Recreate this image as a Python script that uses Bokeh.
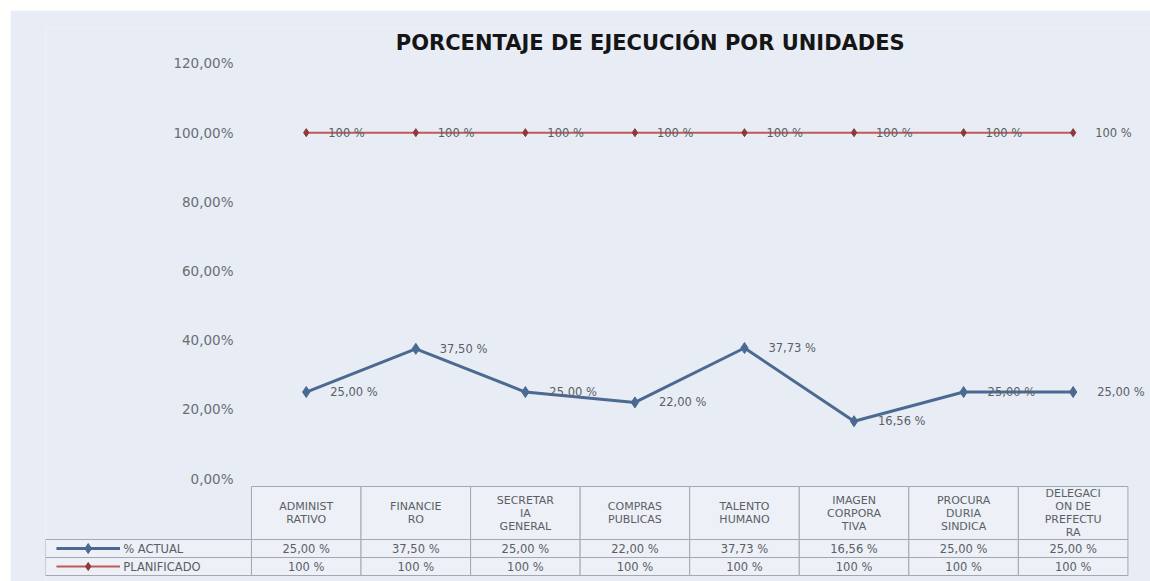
from bokeh.plotting import figure
from bokeh.models import Range1d, FixedTicker, Label, ColumnDataSource, Spacer
from bokeh.layouts import column, row
from bokeh.core.properties import value
from bokeh.embed import file_html
from bokeh.resources import INLINE

# ---- data ----
categories = ["ADMINISTRATIVO", "FINANCIERO", "SECRETARIA GENERAL", "COMPRAS PUBLICAS",
              "TALENTO HUMANO", "IMAGEN CORPORATIVA", "PROCURADURIA SINDICA",
              "DELEGACION DE PREFECTURA"]
header_labels = ["ADMINIST\nRATIVO", "FINANCIE\nRO", "SECRETAR\nIA\nGENERAL", "COMPRAS\nPUBLICAS",
                 "TALENTO\nHUMANO", "IMAGEN\nCORPORA\nTIVA", "PROCURA\nDURIA\nSINDICA",
                 "DELEGACI\nON DE\nPREFECTU\nRA"]
actual = [25.00, 37.50, 25.00, 22.00, 37.73, 16.56, 25.00, 25.00]
planned = [100, 100, 100, 100, 100, 100, 100, 100]
series_names = ["% ACTUAL", "PLANIFICADO"]
y_ticks = [0, 20, 40, 60, 80, 100, 120]
title_text = "PORCENTAJE DE EJECUCIÓN POR UNIDADES"

BG = "#e8ecf5"
CELL = "#edf0f7"
BLUE = "#4a6a92"
RED = "#c05a58"
DKRED = "#8a3a3a"
GRID = "#a2a8b2"
TXT = "#5a5f66"
FONT = "DejaVu Sans"

def fmt2(v):
    return ("%.2f" % v).replace(".", ",") + " %"

xs = [i + 0.5 for i in range(len(categories))]
src = ColumnDataSource(dict(
    x=xs, actual=actual, planned=planned,
    actual_lbl=[fmt2(v) for v in actual],
    planned_lbl=["%d %%" % v for v in planned],
    header=header_labels,
))

# ---- one figure: chart on top, data table below (extra y range) ----
p = figure(width=1140, height=571, x_range=Range1d(-1.88, 8.206), y_range=Range1d(-29.78, 130.11),
           output_backend="svg", toolbar_location=None, x_axis_location=None,
           min_border_left=35, min_border_right=0, min_border_top=18, min_border_bottom=0,
           background_fill_color=BG, border_fill_color=BG, outline_line_color=None)
p.extra_y_ranges = {"tbl": Range1d(0, 553)}
p.grid.grid_line_color = None

ax = p.yaxis[0]
ax.fixed_location = 0
ax.ticker = FixedTicker(ticks=y_ticks)
ax.major_label_overrides = {t: ("%.2f" % t).replace(".", ",") + "%" for t in y_ticks}
ax.axis_line_color = None
ax.major_tick_line_color = None
ax.minor_tick_line_color = None
ax.major_label_text_font = FONT
ax.major_label_text_font_size = "13.5px"
ax.major_label_text_color = "#6a6e75"
ax.major_label_standoff = 12

# series
p.line("x", "planned", source=src, line_color=RED, line_width=2)
p.scatter("x", "planned", source=src, marker="diamond", size=8, fill_color=DKRED, line_color=DKRED)
p.text("x", "planned", text="planned_lbl", source=src, x_offset=22, text_baseline="middle",
       text_font=value(FONT), text_font_size="11.5px", text_color=TXT)

p.line("x", "actual", source=src, line_color=BLUE, line_width=3)
p.scatter("x", "actual", source=src, marker="diamond", size=11, fill_color=BLUE, line_color=BLUE)
p.text("x", "actual", text="actual_lbl", source=src, x_offset=24, text_baseline="middle",
       text_font=value(FONT), text_font_size="11.5px", text_color=TXT)

p.add_layout(Label(x=3.64, y=126, text=title_text, text_align="center", text_baseline="middle",
                   text_font=FONT, text_font_size="21px", text_font_style="bold", text_color="#151515"))

# data table
n = len(categories)
lefts = list(range(n))
rights = [i + 1 for i in range(n)]
for b, tp in [(42, 95), (24, 42), (6, 24)]:
    p.quad(left=lefts, right=rights, bottom=[b] * n, top=[tp] * n, y_range_name="tbl",
           fill_color=CELL, line_color=GRID, line_width=1)
p.quad(left=[-1.88, -1.88], right=[0, 0], bottom=[24, 6], top=[42, 24], y_range_name="tbl",
       fill_color=CELL, line_color=GRID, line_width=1)

p.text("x", 68.5, text="header", source=src, y_range_name="tbl", text_align="center",
       text_baseline="middle", text_font=value(FONT), text_font_size="11px", text_color=TXT,
       text_line_height=1.0)
p.text("x", 33, text="actual_lbl", source=src, y_range_name="tbl", text_align="center",
       text_baseline="middle", text_font=value(FONT), text_font_size="11.5px", text_color=TXT)
p.text("x", 15, text="planned_lbl", source=src, y_range_name="tbl", text_align="center",
       text_baseline="middle", text_font=value(FONT), text_font_size="11.5px", text_color=TXT)

# legend keys in the table
p.segment(x0=[-1.78], y0=[33], x1=[-1.20], y1=[33], y_range_name="tbl", line_color=BLUE, line_width=3)
p.scatter(x=[-1.49], y=[33], y_range_name="tbl", marker="diamond", size=10, fill_color=BLUE, line_color=BLUE)
p.segment(x0=[-1.78], y0=[15], x1=[-1.20], y1=[15], y_range_name="tbl", line_color=RED, line_width=2)
p.scatter(x=[-1.49], y=[15], y_range_name="tbl", marker="diamond", size=8, fill_color=DKRED, line_color=DKRED)
p.text(x=[-1.17, -1.17], y=[33, 15], text=series_names, y_range_name="tbl", text_baseline="middle",
       text_font=value(FONT), text_font_size="11.5px", text_color=TXT)

layout = column(Spacer(height=10, width=1150),
                row(Spacer(width=10, height=571), p, spacing=0),
                spacing=0)
open("out.html", "w").write(file_html(layout, INLINE))
